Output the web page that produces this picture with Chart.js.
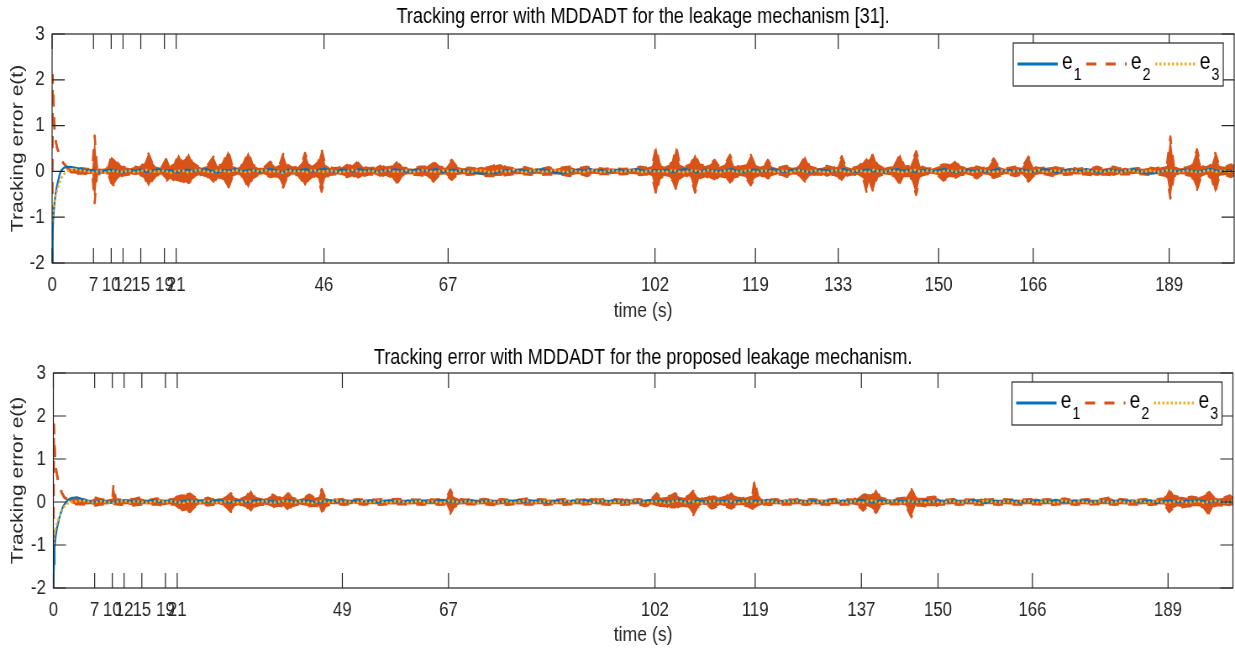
<!DOCTYPE html>
<html>
<head>
<meta charset="utf-8">
<script src="https://cdn.jsdelivr.net/npm/chart.js@4.4.1/dist/chart.umd.min.js"></script>
<style>
  html, body { margin: 0; padding: 0; background: #fff; }
  #wrap { position: relative; width: 1235px; height: 652px; overflow: hidden; }
  canvas { position: absolute; left: 0; }
</style>
</head>
<body>
<div id="wrap">
  <!-- drawn wider and squeezed to 1235px, like the source figure -->
  <canvas id="top" width="1470" height="326" style="top:0;width:1235px;height:326px"></canvas>
  <canvas id="bot" width="1470" height="326" style="top:326px;width:1235px;height:326px"></canvas>
</div>
<script>
// ---- data ---------------------------------------------------------------
var xTicksTop = [0, 7, 10, 12, 15, 19, 21, 46, 67, 102, 119, 133, 150, 166, 189];
var xTicksBot = [0, 7, 10, 12, 15, 19, 21, 49, 67, 102, 119, 137, 150, 166, 189];
var yTicks = [-2, -1, 0, 1, 2, 3];
var legendNames = ['e1', 'e2', 'e3'];

// time grid for e1 / e3 (fine at the start, then every second)
var tHead = [0, 0.1, 0.2, 0.4, 0.6, 0.8, 1, 1.3, 1.6, 2, 2.5];
var tGrid = tHead.slice();
for (var s = 3; s <= 200; s++) tGrid.push(s);

var e1Top = [-2,-1.4,-1.0,-.7,-.48,-.33,-.22,-.06,.03,.08,.1,
  .1,.08,.05,.02,.03,-.01,.02,.04,.01,-.02,
  .03,.01,.04,-.01,.02,.05,.01,.03,-.02,.02,
  .04,.0,.03,.05,.01,-.02,.03,.02,.05,.0,
  .02,.04,-.01,.03,.05,.02,-.02,.04,.01,.03,
  .05,.0,.03,.06,.02,-.01,.04,.03,.0,.05,
  .02,.04,-.02,.03,.01,.05,.02,-.01,.03,.04,
  .01,.03,.05,-.02,.02,.04,.0,.03,-.03,-.04,
  -.05,-.02,-.04,.01,.03,.0,.04,.02,-.01,.03,
  .05,.02,-.03,-.05,-.02,.01,.04,.02,.05,.01,
  .03,-.01,.02,.04,.0,.03,.05,.02,.0,.03,
  .01,.04,-.01,.02,.05,.03,-.02,.01,.04,.02,
  .0,.03,.05,.01,-.02,.03,.04,.0,.02,.05,
  .01,-.01,.03,.04,.02,-.02,.01,.04,.03,.0,
  .02,.05,.01,-.01,.03,.04,.0,.02,-.02,.03,
  .05,.01,.03,-.01,.02,.04,.0,.03,.05,.01,
  -.02,.02,.04,.0,.03,-.01,.02,.05,.01,.03,
  .0,.04,.02,-.01,.03,.05,.02,-.02,.01,.04,
  .03,.0,.05,.02,-.03,.01,.04,.02,-.01,.03,
  .05,.0,-.04,-.05,-.02,.01,.03,.0,.02,.04,
  .01,-.01,.03,.05,.02,.0,.03,.01];

var e3Top = [-1.1,-.95,-.82,-.66,-.54,-.44,-.36,-.24,-.14,-.06,.0,
  .03,.04,.02,.0,-.02,.01,-.03,.02,.0,-.01,
  .02,-.02,.01,.03,-.01,.0,.02,-.03,.01,.02,
  -.02,.01,.03,.0,-.02,.02,.01,-.01,.03,.0,
  -.02,.02,.0,.03,-.01,.01,-.03,.02,.0,.01,
  -.02,.03,.01,-.01,.02,.0,-.02,.01,.03,-.01,
  .0,.02,-.02,.01,.03,-.01,.0,.02,-.02,.01,
  .03,.0,-.01,.02,.01,-.02,.02,.0,-.01,.03,
  .01,-.02,.0,.02,-.01,.03,.0,-.02,.01,.02,
  -.01,.0,.03,.01,-.02,.02,.0,-.01,.03,.01,
  -.02,.01,.02,-.01,.0,.03,.01,-.02,.02,.0,
  .01,-.01,.03,.0,-.02,.02,.01,-.01,.03,.0,
  -.02,.02,.01,-.01,.0,.03,-.02,.01,.02,-.01,
  .0,.02,-.02,.03,.01,-.01,.02,.0,-.02,.01,
  .03,.0,-.01,.02,.01,-.02,.03,.0,-.01,.02,
  .0,-.02,.01,.03,-.01,.02,.0,-.02,.01,.02,
  -.01,.03,.0,-.02,.02,.01,-.01,.0,.03,-.02,
  .01,.02,-.01,.0,.03,-.02,.01,.02,-.01,.0,
  .02,-.02,.03,.0,.01,-.01,.02,.0,-.02,.03,
  .01,-.01,.0,.02,-.02,.01,.03,.0,-.01,.02,
  .0,-.02,.01,.03,-.01,.02,.0,.01];

var e1Bot = [-2,-1.45,-1.05,-.8,-.62,-.5,-.38,-.24,-.12,-.03,.05,
  .09,.11,.06,.02,.0,.03,.01,-.01,.02,.04,
  .01,.03,-.01,.02,.04,.0,.02,.03,-.01,.02,
  .04,.01,.03,.0,.02,.05,.01,-.01,.03,.02,
  .0,.03,.05,.01,.02,-.01,.03,.04,.0,.02,
  .03,.01,-.01,.02,.04,.01,.03,.0,.02,.04,
  .01,.03,-.01,.02,.04,.02,.0,.03,.01,.04,
  .02,.0,.03,.05,.01,.02,-.01,.03,.04,.0,
  .02,.04,.01,-.01,.03,.02,.05,.0,.02,.03,
  .01,-.02,.02,.04,.0,.03,.01,.05,.02,-.01,
  .03,.01,.04,.02,-.01,.03,.0,.02,.04,.01,
  .03,.0,.02,.05,.01,-.01,.03,.02,.0,.04,
  .01,.03,-.01,.02,.04,.01,.03,.0,.05,.02,
  -.01,.03,.01,.04,.0,.02,.03,-.01,.02,.04,
  .01,.03,.0,.02,.05,.01,-.01,.03,.02,.0,
  .04,.01,.03,-.01,.02,.04,.0,.03,.01,.02,
  .04,.0,.02,.05,.01,-.02,.03,.02,.0,.04,
  .02,-.01,.03,.01,.04,.0,.02,.05,.01,-.01,
  .03,.02,.04,.0,.02,.03,-.01,.02,.04,.01,
  .03,.0,.02,.04,-.02,.01,.03,.02,.0,.03,
  .01,.04,.02,-.01,.03,.01,.0,.02];

var e3Bot = [-1.0,-.85,-.73,-.6,-.5,-.42,-.35,-.25,-.17,-.08,-.03,
  .0,.02,.03,.01,-.01,.02,.0,-.02,.01,.03,
  -.01,.02,.0,-.02,.01,.03,-.01,.02,.0,-.02,
  .02,.01,-.01,.03,.0,-.02,.01,.02,-.01,.0,
  .03,-.01,.01,.02,-.02,.0,.03,.01,-.01,.02,
  .0,-.02,.02,.01,-.01,.03,.0,.01,-.02,.02,
  .01,-.01,.03,.0,-.02,.02,.01,-.01,.0,.03,
  -.01,.02,.0,-.02,.03,.01,-.01,.02,.0,-.02,
  .01,.03,-.01,.0,.02,-.02,.01,.03,.0,-.01,
  .02,.0,-.02,.01,.03,-.01,.02,.0,-.02,.01,
  .03,-.01,.0,.02,-.02,.01,.03,.0,-.01,.02,
  .0,-.02,.01,.03,-.01,.02,.0,-.02,.01,.03,
  -.01,.0,.02,-.02,.01,.03,-.01,.0,.02,.01,
  -.02,.02,.0,.03,-.01,.01,-.02,.02,.0,.01,
  .03,-.01,.0,.02,-.02,.01,.03,-.01,.0,.02,
  .01,-.02,.03,.0,.01,-.01,.02,.0,-.02,.03,
  .01,-.01,.02,.0,-.02,.03,.01,-.01,.0,.02,
  -.02,.01,.03,.0,-.01,.02,.0,-.02,.03,.01,
  -.01,.02,.0,-.02,.01,.03,-.01,.0,.02,-.02,
  .01,.03,.0,-.01,.02,.0,-.02,.01,.03,-.01,
  .0,.02,-.02,.01,.03,.0,-.01,.02];

// e2 oscillates fast: kept as upper / lower envelope
var e2tTop = [0,.08,.2,.35,.5,.8,1.1,1.4,1.9,2.5,
  3,4,5,6,6.8,7.2,7.6,8.5,9.5,10,
  10.4,11,11.6,12.4,13.2,14,14.8,15.6,16.3,16.9,
  17.6,18.5,19.4,20,20.7,21.4,22,22.6,23.1,23.7,
  24.5,25.3,26.2,27.3,28,28.8,29.8,30.5,31.4,32.3,
  33.2,33.9,34.8,35.8,36.9,37.8,38.5,39.1,39.7,40.6,
  41.6,42.3,42.8,43.4,44.2,45,45.6,46.2,47,48,
  49,49.9,50.8,51.8,52.6,53.6,54.6,55.5,56.4,57.4,
  58.3,59.2,60.2,61.2,62.2,63.3,64.5,65.5,66.6,67.6,
  68.5,69.5,70.5,71.5,72.5,73.5,74.6,75.8,76.8,78,
  79,80,81,82,83,84,85,86,87.6,88.6,
  89.6,90.5,91.5,92.5,93.5,94.5,95.5,96.5,97.5,98.5,
  99.5,100.5,101.5,102.2,102.8,103.6,104.4,105,105.6,106.2,
  107,108,108.8,109.5,110.5,111.3,112.1,112.9,113.8,114.7,
  115.4,116.4,117.3,118.2,118.9,119.8,120.6,121.1,121.8,122.8,
  123.6,124.3,125.2,126.4,127.4,128.2,129.2,130.3,131.1,132.1,
  132.9,133.6,134.3,135.3,136.3,137.2,137.8,138.3,138.9,139.6,
  140.6,141.5,142.5,143.5,144.2,145.2,146.2,146.9,147.8,148.8,
  149.8,150.8,151.8,152.8,153.6,154.6,155.6,156.5,157.4,158.4,
  159.3,160.2,161.2,162.1,163,164.1,165.2,166,167,168.1,
  169.4,170.5,171.5,172.5,173.5,174.5,175.5,176.8,177.8,178.8,
  179.6,180.6,181.6,182.6,183.6,184.6,185.6,186.6,187.6,188.6,
  189.2,189.8,190.8,191.8,192.8,193.7,194.4,195.3,196.2,196.8,
  197.5,198.5,199.5,200];
var e2hiTop = [-2,2.1,1.6,1.05,.75,.54,.42,.3,.18,.09,
  .06,.05,.07,.05,.06,.78,.07,.06,.08,.32,
  .28,.2,.1,.09,.07,.1,.08,.18,.39,.2,
  .1,.08,.3,.1,.15,.38,.2,.25,.4,.2,
  .12,.08,.12,.32,.12,.15,.45,.12,.08,.15,
  .43,.15,.08,.08,.21,.1,.15,.38,.15,.08,
  .1,.2,.4,.18,.1,.2,.48,.15,.08,.07,
  .09,.17,.1,.22,.1,.07,.08,.15,.08,.1,
  .23,.08,.07,.06,.1,.1,.21,.1,.08,.25,
  .1,.07,.08,.06,.1,.08,.12,.16,.09,.07,
  .06,.09,.05,.07,.06,.09,.05,.08,.1,.06,
  .08,.1,.06,.07,.05,.07,.06,.05,.06,.07,
  .1,.08,.12,.54,.15,.1,.15,.2,.54,.15,
  .1,.15,.38,.15,.12,.15,.25,.1,.15,.36,
  .12,.1,.12,.36,.15,.1,.14,.25,.1,.07,
  .1,.12,.08,.1,.33,.1,.07,.08,.12,.08,
  .1,.33,.1,.07,.1,.2,.3,.2,.4,.15,
  .07,.1,.12,.38,.1,.12,.44,.12,.07,.06,
  .1,.15,.14,.24,.1,.07,.1,.1,.07,.1,
  .28,.1,.06,.08,.1,.08,.32,.1,.07,.08,
  .1,.07,.06,.08,.05,.07,.06,.1,.06,.08,
  .1,.06,.08,.05,.07,.06,.08,.06,.09,.12,
  .76,.12,.07,.08,.12,.48,.12,.08,.15,.4,
  .12,.1,.15,.1];
var e2loTop = [-2,2.1,1.6,1.05,.75,.54,.42,.3,.18,.09,
  -.04,-.05,-.04,-.06,-.05,-.69,-.06,-.05,-.07,-.25,
  -.3,-.18,-.1,-.08,-.06,-.08,-.07,-.12,-.33,-.2,
  -.09,-.07,-.2,-.12,-.2,-.22,-.25,-.2,-.25,-.18,
  -.1,-.07,-.1,-.26,-.12,-.15,-.37,-.12,-.07,-.12,
  -.37,-.15,-.08,-.06,-.12,-.1,-.18,-.35,-.15,-.07,
  -.08,-.2,-.33,-.18,-.1,-.15,-.44,-.15,-.07,-.06,
  -.08,-.12,-.08,-.16,-.1,-.06,-.07,-.12,-.07,-.12,
  -.28,-.09,-.06,-.07,-.08,-.1,-.22,-.08,-.07,-.18,
  -.08,-.06,-.07,-.06,-.08,-.1,-.1,-.1,-.08,-.06,
  -.06,-.06,-.07,-.05,-.07,-.06,-.07,-.06,-.1,-.06,
  -.06,-.1,-.05,-.06,-.05,-.06,-.05,-.06,-.05,-.06,
  -.08,-.06,-.1,-.51,-.15,-.1,-.12,-.2,-.4,-.15,
  -.08,-.12,-.46,-.15,-.1,-.15,-.2,-.1,-.12,-.28,
  -.12,-.1,-.12,-.3,-.15,-.1,-.1,-.15,-.1,-.06,
  -.08,-.12,-.07,-.08,-.22,-.1,-.06,-.07,-.12,-.07,
  -.1,-.22,-.1,-.06,-.08,-.15,-.44,-.2,-.44,-.12,
  -.06,-.08,-.1,-.29,-.1,-.1,-.51,-.1,-.06,-.05,
  -.08,-.2,-.12,-.14,-.08,-.06,-.1,-.15,-.06,-.08,
  -.14,-.1,-.06,-.07,-.1,-.06,-.22,-.1,-.06,-.06,
  -.1,-.06,-.07,-.06,-.07,-.06,-.07,-.1,-.06,-.07,
  -.1,-.06,-.06,-.06,-.05,-.06,-.07,-.06,-.07,-.1,
  -.59,-.1,-.06,-.07,-.1,-.4,-.12,-.07,-.15,-.47,
  -.1,-.08,-.12,-.08];

var e2tBot = [0,.08,.2,.35,.5,.8,1.1,1.4,1.9,2.5,
  3,3.8,4.6,5.5,6.5,7.2,8,9,10,10.2,
  10.6,11.5,12.5,13.5,14.5,15.5,16.5,17.5,18.5,19.5,
  20.5,21.2,21.8,22.5,23.2,23.9,24.7,25.5,26.2,27,
  28,29.2,30.1,30.8,31.8,32.7,33.5,34.2,35.2,36.3,
  37.2,38,39,39.7,40.4,41.5,42.5,43.4,44.3,45,
  45.5,46.1,47,48,49.3,50.5,51.5,52.5,53.5,54.5,
  55.5,56.5,57.5,58.5,59.5,60.5,61.5,62.5,63.5,64.5,
  65.5,66.6,67.3,67.9,68.8,69.8,71,72,73,74,
  75,76,77,78,79,80.3,81.5,82.5,83.5,84.5,
  85.5,86.5,87.5,88.5,89.5,90.5,91.3,92.2,93.2,94.2,
  95.2,96.2,97.2,98.2,99.2,100.3,101.5,102.3,103,104,
  104.8,105.4,106.1,107,107.8,108.5,109.2,110,111,111.6,
  112.2,113,114,115,115.8,116.8,117.8,118.5,118.9,119.5,
  120.4,121.5,122.5,123.5,124.5,125.5,126.5,127.5,128.5,129.5,
  130.5,131.5,132.5,133.5,134.5,135.5,136.4,137.3,138,138.8,
  139.5,140.2,141.2,142.2,143.2,144.5,145.5,146.2,147.1,148,
  149.4,150.4,151.5,152.5,153.5,154.5,155.5,156.5,157.3,158.3,
  159.3,160.3,161.3,162.3,163.3,164.3,165.3,166.6,167.6,168.6,
  169.6,170.6,171.4,172.4,173.4,174.4,175.4,176.4,177.4,179,
  180,181,182,183,184,185,186,187,188.4,189.2,
  189.8,190.6,191.4,192.2,193,194,195,196,196.7,197.5,
  198.5,199.5,200];
var e2hiBot = [-2,1.8,1.3,.95,.72,.5,.4,.22,.1,.06,
  .1,.1,.06,.05,.05,.1,.06,.05,.08,.42,
  .06,.05,.07,.06,.1,.06,.05,.08,.06,.05,
  .07,.16,.18,.17,.19,.12,.06,.07,.1,.06,
  .08,.1,.2,.1,.07,.12,.28,.1,.06,.1,
  .17,.1,.12,.23,.1,.06,.1,.17,.1,.12,
  .3,.1,.06,.05,.07,.05,.06,.05,.07,.05,
  .06,.05,.06,.07,.05,.06,.05,.05,.07,.05,
  .06,.07,.29,.12,.07,.05,.06,.05,.07,.05,
  .05,.06,.05,.06,.05,.08,.05,.06,.05,.06,
  .05,.06,.05,.06,.05,.06,.1,.05,.06,.05,
  .06,.05,.08,.05,.06,.05,.08,.2,.1,.12,
  .15,.2,.12,.1,.15,.26,.12,.07,.1,.15,
  .15,.08,.12,.23,.1,.08,.12,.15,.52,.12,
  .06,.05,.06,.05,.06,.05,.07,.05,.06,.05,
  .06,.05,.07,.05,.06,.05,.1,.2,.15,.15,
  .3,.1,.07,.06,.08,.1,.3,.1,.1,.1,
  .12,.06,.05,.06,.05,.06,.05,.06,.08,.05,
  .06,.05,.06,.05,.06,.05,.06,.08,.05,.06,
  .05,.06,.08,.05,.06,.05,.06,.05,.06,.1,
  .05,.06,.05,.06,.05,.06,.05,.06,.08,.3,
  .15,.12,.12,.1,.12,.1,.15,.23,.12,.08,
  .1,.15,.08];
var e2loBot = [-2,1.8,1.3,.95,.72,.5,.4,.22,.1,.06,
  -.03,-.05,-.05,-.06,-.05,-.08,-.05,-.06,-.04,-.04,
  -.05,-.06,-.05,-.08,-.06,-.05,-.06,-.05,-.08,-.06,
  -.05,-.12,-.22,-.2,-.23,-.12,-.06,-.06,-.08,-.06,
  -.05,-.1,-.23,-.1,-.06,-.1,-.23,-.1,-.06,-.07,
  -.12,-.08,-.1,-.2,-.1,-.05,-.08,-.1,-.08,-.1,
  -.27,-.1,-.05,-.05,-.06,-.05,-.04,-.06,-.05,-.05,
  -.06,-.05,-.06,-.05,-.05,-.06,-.05,-.06,-.05,-.05,
  -.06,-.05,-.27,-.12,-.06,-.05,-.05,-.06,-.05,-.06,
  -.07,-.05,-.06,-.05,-.06,-.05,-.06,-.05,-.06,-.05,
  -.05,-.06,-.05,-.05,-.06,-.05,-.04,-.06,-.05,-.06,
  -.05,-.06,-.05,-.06,-.05,-.09,-.06,-.1,-.08,-.1,
  -.15,-.15,-.1,-.08,-.15,-.3,-.12,-.06,-.08,-.15,
  -.12,-.07,-.1,-.15,-.08,-.07,-.1,-.15,-.15,-.1,
  -.05,-.06,-.05,-.06,-.05,-.06,-.05,-.06,-.05,-.06,
  -.05,-.06,-.05,-.06,-.05,-.06,-.08,-.2,-.1,-.15,
  -.25,-.08,-.06,-.05,-.05,-.08,-.35,-.08,-.08,-.1,
  -.1,-.05,-.06,-.05,-.06,-.05,-.06,-.05,-.06,-.05,
  -.05,-.06,-.05,-.06,-.05,-.06,-.05,-.05,-.06,-.05,
  -.06,-.05,-.06,-.05,-.06,-.05,-.06,-.05,-.05,-.05,
  -.06,-.05,-.06,-.05,-.06,-.05,-.06,-.05,-.06,-.23,
  -.15,-.1,-.12,-.1,-.1,-.1,-.12,-.3,-.1,-.07,
  -.08,-.1,-.06];

// ---- drawing ------------------------------------------------------------
var C1 = '#0072BD', C2 = '#D95319', C3 = '#EDB120', AX = '#262626';
var FONT = "'Liberation Sans', Arial, Helvetica, sans-serif";
var legendStyle = [
  {color: C1, dash: []},
  {color: C2, dash: [12, 11]},
  {color: C3, dash: [2.5, 2.5]}
];

function pts(ts, vs) {
  return ts.map(function (t, i) { return {x: t, y: vs[i]}; });
}

// box, inside ticks, title and legend, matlab style
var frame = {
  id: 'frame',
  afterDraw: function (chart, args, o) {
    var ctx = chart.ctx, a = chart.chartArea;
    var x = chart.scales.x, y = chart.scales.y;
    ctx.save();
    ctx.strokeStyle = AX;
    ctx.lineWidth = 1.2;
    ctx.setLineDash([]);
    ctx.beginPath();
    o.xTicks.forEach(function (v) {
      var px = x.getPixelForValue(v);
      ctx.moveTo(px, a.bottom); ctx.lineTo(px, a.bottom - 15);
      ctx.moveTo(px, a.top); ctx.lineTo(px, a.top + 15);
    });
    yTicks.forEach(function (v) {
      var py = y.getPixelForValue(v);
      ctx.moveTo(a.left, py); ctx.lineTo(a.left + 15, py);
      ctx.moveTo(a.right, py); ctx.lineTo(a.right - 15, py);
    });
    ctx.stroke();
    ctx.strokeRect(a.left, a.top, a.right - a.left, a.bottom - a.top);

    // title
    ctx.fillStyle = '#000';
    ctx.font = '21.5px ' + FONT;
    ctx.textAlign = 'center';
    ctx.textBaseline = 'middle';
    ctx.fillText(o.title, (a.left + a.right) / 2, o.titleY);

    // legend
    var lw = 250, lh = 43;
    var lx = a.right - 13 - lw, ly = a.top + 9;
    ctx.fillStyle = '#fff';
    ctx.fillRect(lx, ly, lw, lh);
    ctx.strokeStyle = AX;
    ctx.lineWidth = 1.2;
    ctx.strokeRect(lx, ly, lw, lh);
    legendNames.forEach(function (name, i) {
      var x0 = lx + 5 + i * 82;
      ctx.beginPath();
      ctx.setLineDash(legendStyle[i].dash);
      ctx.strokeStyle = legendStyle[i].color;
      ctx.lineWidth = 3;
      ctx.moveTo(x0, ly + 21);
      ctx.lineTo(x0 + 48, ly + 21);
      ctx.stroke();
      ctx.setLineDash([]);
      ctx.fillStyle = '#000';
      ctx.textAlign = 'left';
      ctx.textBaseline = 'alphabetic';
      ctx.font = '23px ' + FONT;
      ctx.fillText(name.charAt(0), x0 + 53, ly + 26);
      ctx.font = '17px ' + FONT;
      ctx.fillText(name.slice(1), x0 + 67, ly + 37);
    });
    ctx.restore();
  }
};

function build(id, o) {
  var line = {pointRadius: 0, tension: 0, borderWidth: 2.5, borderJoinStyle: 'round', borderCapStyle: 'butt'};
  // listed top-most first: e3 over e1 over the e2 band
  return new Chart(document.getElementById(id), {
    type: 'line',
    data: {
      datasets: [
        Object.assign({}, line, {label: 'e3', data: pts(tGrid, o.e3), borderColor: C3, borderDash: [2.5, 2.5], fill: false}),
        Object.assign({}, line, {label: 'e1', data: pts(tGrid, o.e1), borderColor: C1, borderWidth: 2.2, fill: false}),
        Object.assign({}, line, {label: 'e2', data: pts(o.e2t, o.e2hi), borderColor: C2, backgroundColor: C2,
                                 borderWidth: 2.6, borderDash: [12, 11], fill: '+1'}),
        Object.assign({}, line, {label: 'e2 low', data: pts(o.e2t, o.e2lo), borderColor: C2,
                                 borderWidth: 2.6, borderDash: [12, 11], fill: false})
      ]
    },
    options: {
      responsive: false,
      maintainAspectRatio: false,
      devicePixelRatio: 1,
      animation: false,
      layout: {padding: {top: o.padTop, right: o.padRight, left: 0, bottom: 0}},
      plugins: {
        legend: {display: false},
        tooltip: {enabled: false},
        frame: {title: o.title, titleY: o.titleY, xTicks: o.xTicks}
      },
      scales: {
        x: {
          type: 'linear', min: 0, max: 200,
          afterBuildTicks: function (s) { s.ticks = o.xTicks.map(function (v) { return {value: v}; }); },
          afterFit: function (s) { s.height = o.xH; },
          ticks: {autoSkip: false, maxRotation: 0, minRotation: 0, color: AX, padding: 2,
                  font: {family: FONT, size: 20}, callback: function (v) { return String(v); }},
          grid: {display: false},
          border: {display: false},
          title: {display: true, text: 'time (s)', color: AX, font: {family: FONT, size: 21},
                  padding: {top: 0, bottom: o.xtPad}}
        },
        y: {
          type: 'linear', min: -2, max: 3,
          afterBuildTicks: function (s) { s.ticks = yTicks.map(function (v) { return {value: v}; }); },
          afterFit: function (s) { s.width = o.yW; },
          ticks: {color: AX, padding: 1, font: {family: FONT, size: 20},
                  callback: function (v) { return String(v); }},
          grid: {display: false},
          border: {display: false},
          title: {display: true, text: 'Tracking error e(t)', color: AX, font: {family: FONT, size: 21},
                  padding: {top: 9, bottom: 0}}
        }
      }
    },
    plugins: [frame]
  });
}

build('top', {
  e1: e1Top, e3: e3Top, e2t: e2tTop, e2hi: e2hiTop, e2lo: e2loTop,
  xTicks: xTicksTop, title: 'Tracking error with MDDADT for the leakage mechanism [31].',
  titleY: 17.5, padTop: 34, padRight: 1, xH: 63, yW: 62, xtPad: 2.5
});
build('bot', {
  e1: e1Bot, e3: e3Bot, e2t: e2tBot, e2hi: e2hiBot, e2lo: e2loBot,
  xTicks: xTicksBot, title: 'Tracking error with MDDADT for the proposed leakage mechanism.',
  titleY: 32, padTop: 47, padRight: 2.5, xH: 64, yW: 63.5, xtPad: 4.5
});
</script>
</body>
</html>
